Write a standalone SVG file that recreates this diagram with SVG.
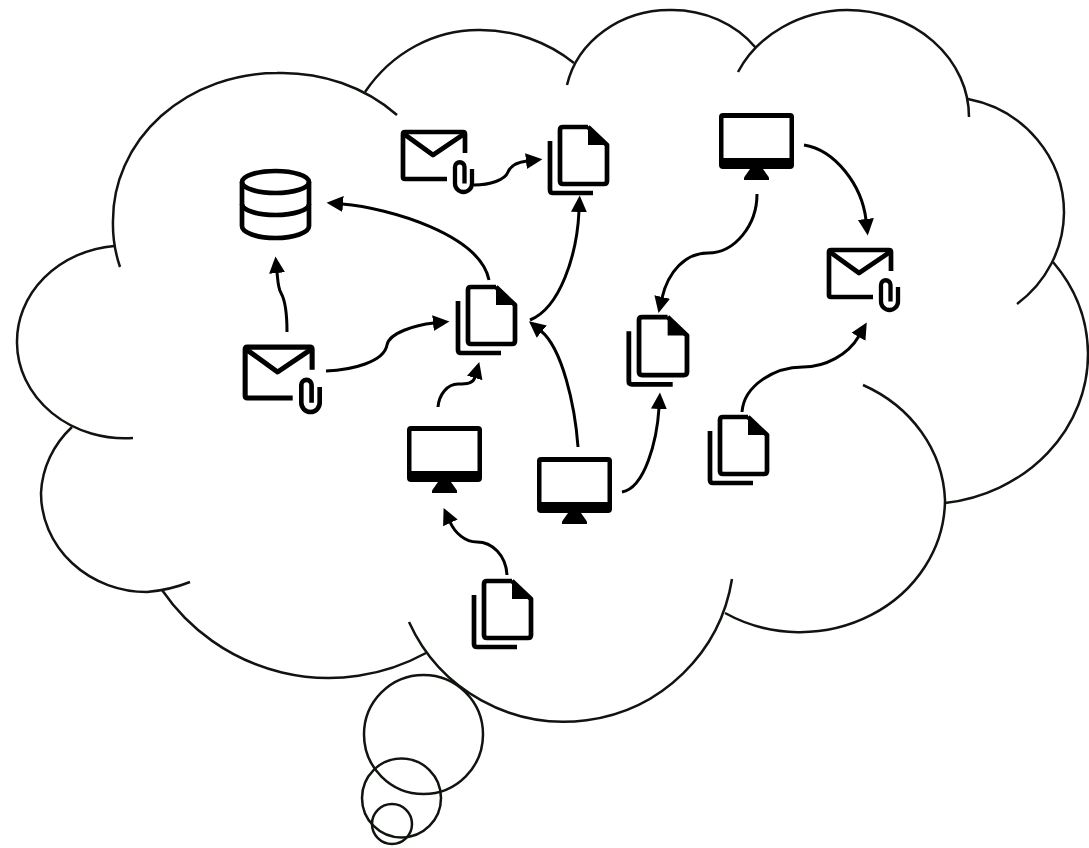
<svg xmlns="http://www.w3.org/2000/svg" width="1089" height="848" viewBox="0 0 1089 848">
<style>
.cloud{fill:none;stroke:#10140f;stroke-width:2.5}
.conn{fill:none;stroke:#000;stroke-width:3;marker-end:url(#arrow)}
.ico{fill:none;stroke:#000;stroke-width:4.7;stroke-linejoin:round}
.clip{fill:none;stroke:#000;stroke-width:4.3}
.solid{fill:#000;stroke:none}
</style>
<defs>
<marker id="arrow" markerUnits="userSpaceOnUse" markerWidth="18" markerHeight="18" viewBox="0 0 18 18" refX="1" refY="9" orient="auto">
<path d="M0 1L16.500 9L0 17z" fill="#000"/>
</marker>
<g id="doc">
<path class="ico" d="M30 2H5Q2 2 2 5V56Q2 59 5 59H46Q49 59 49 56V20L30 2"/>
<path class="solid" d="M30 1L51 20H30z"/>
<path class="ico" d="M-8 16V65Q-8 68-5 68H35"/>
</g>
<g id="mail">
<path class="ico" d="M64 23V4Q64 2 62 2H4Q2 2 2 4V47Q2 49 4 49H46"/>
<path class="ico" d="M3 4L32 25L63 4"/>
<path class="clip" d="M71 39V53.500A8.500 8.500 0 0 1 54 53.500V37A4.750 4.750 0 0 1 63.500 37V53.500"/>
</g>
<g id="monitor">
<path class="solid" fill-rule="evenodd" d="M4 0H71Q75 0 75 4V52Q75 56 71 56H4Q0 56 0 52V4Q0 0 4 0ZM4.500 5V45H70.500V5Z"/>
<path class="solid" d="M31 56H44L50 64.500V67H25V64.500Z"/>
</g>
</defs>
<g id="cloud">
<path class="cloud" d="M120 267A164 147 0 0 1 113 220A164 147 0 0 1 277 73A164 147 0 0 1 397 115"/>
<path class="cloud" d="M114 246A108 96 0 0 0 17 343A108 96 0 0 0 133 438"/>
<path class="cloud" d="M72 427A106 99 0 0 0 41 493A106 99 0 0 0 147 592Q170 590 190 582"/>
<path class="cloud" d="M162 590A202 202 0 0 0 426 653"/>
<path class="cloud" d="M409 622A170 169 0 0 0 732 579"/>
<path class="cloud" d="M725 613A145 133 0 0 0 945 500A145 133 0 0 0 863 385"/>
<path class="cloud" d="M945 503A163 150 0 0 0 1088 353A163 150 0 0 0 1053 262"/>
<path class="cloud" d="M968 99A119 116 0 0 1 1064 213A119 116 0 0 1 1017 304"/>
<path class="cloud" d="M738 72A122 107 0 0 1 847 10A122 107 0 0 1 969 117"/>
<path class="cloud" d="M567 85A105 95 0 0 1 670 10A105 95 0 0 1 756 48"/>
<path class="cloud" d="M365 92A140 150 0 0 1 480 30A150 150 0 0 1 574 63"/>
<circle class="cloud" cx="423.500" cy="734.500" r="59.500"/>
<circle class="cloud" cx="401.500" cy="798" r="39.500"/>
<circle class="cloud" cx="392" cy="824" r="20"/>
</g>
<g id="connectors">
<path class="conn" d="M287 332C287 312 285 300 281 293C278 288 278 282 277 272"/>
<path class="conn" d="M326 371C352 370 384 362 387 345C389 333 415 325 434 323"/>
<path class="conn" d="M489 280C480 235 390 208 342 204"/>
<path class="conn" d="M474 185C490 185 505 180 508 172C511 165 518 162 527 161"/>
<path class="conn" d="M530 320C560 308 577 255 579 211"/>
<path class="conn" d="M578 447C575 405 562 348 541 331"/>
<path class="conn" d="M438 407C439 395 447 384 458 384C466 384 473 384 475 377"/>
<path class="conn" d="M507 575C506 555 492 542 477 542C465 542 455 533 450 522"/>
<path class="conn" d="M622 492C645 488 657 440 659 408"/>
<path class="conn" d="M757 194C757 225 735 253 708 253C685 253 668 272 662 298"/>
<path class="conn" d="M804 145C835 150 862 185 866 220"/>
<path class="conn" d="M742 412C744 385 775 367 803 367C825 367 848 355 859 336"/>
</g>
<g id="database">
<ellipse class="ico" cx="275.500" cy="182" rx="33.500" ry="11"/>
<path class="ico" d="M242 182V226A33.500 12 0 0 0 309 226V182"/>
<path class="ico" d="M242 204A33.500 11 0 0 0 309 204"/>
</g>
<g id="mail-1"><use href="#mail" x="401" y="130"/></g>
<g id="mail-2"><use href="#mail" transform="translate(243 345) scale(1.08)"/></g>
<g id="mail-3"><use href="#mail" x="827" y="248"/></g>
<g id="doc-1"><use href="#doc" x="558" y="125"/></g>
<g id="doc-2"><use href="#doc" x="466" y="285"/></g>
<g id="doc-3"><use href="#doc" transform="translate(637 315) scale(1.02)"/></g>
<g id="doc-4"><use href="#doc" x="718" y="415"/></g>
<g id="doc-5"><use href="#doc" x="482" y="579"/></g>
<g id="monitor-1"><use href="#monitor" x="407" y="426"/></g>
<g id="monitor-2"><use href="#monitor" x="537" y="457"/></g>
<g id="monitor-3"><use href="#monitor" x="719" y="113"/></g>
</svg>
